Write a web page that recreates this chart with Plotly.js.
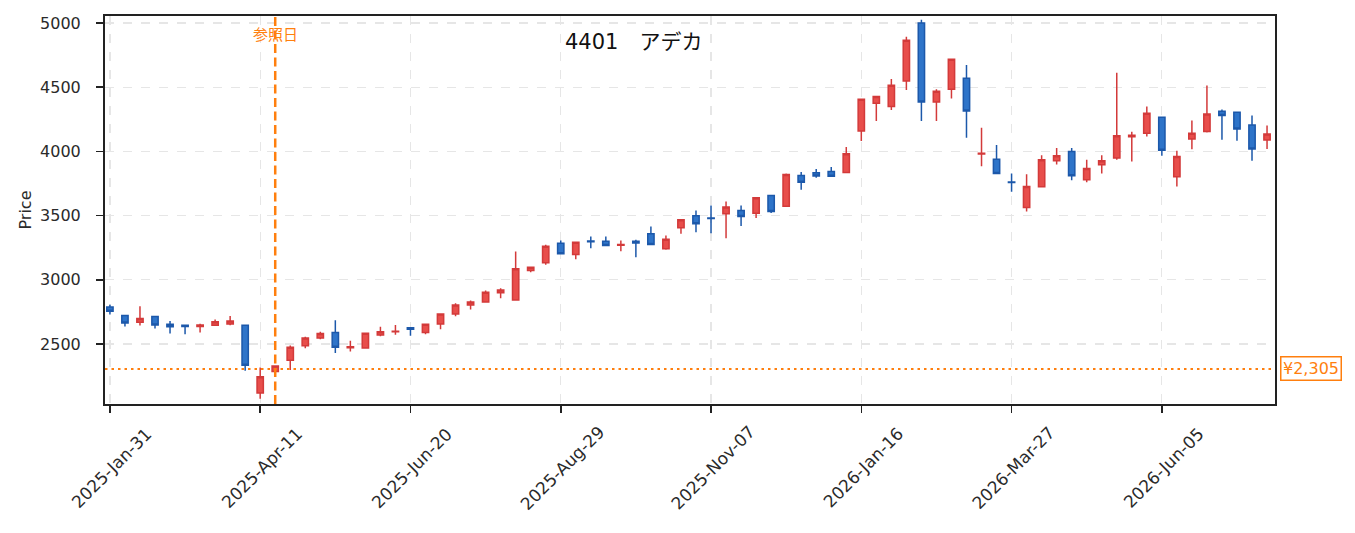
<!DOCTYPE html>
<html>
<head>
<meta charset="utf-8">
<script src="https://cdn.plot.ly/plotly-3.0.1.min.js"></script>
<style>html,body{margin:0;padding:0;background:#fff;}#chart{width:1355px;height:533px;}</style>
</head>
<body>
<div id="chart"></div>
<script>
const startDate = '2025-01-31';
const openVals = [2788,2722,2668,2714,2653,2645,2635,2645,2655,2645,2117,2285,2372,2485,2546,2589,2470,2469,2569,2594,2627,2589,2656,2734,2804,2827,2898,2843,3072,3132,3285,3197,3302,3300,3268,3300,3358,3241,3405,3498,3482,3514,3540,3518,3656,3573,3813,3833,3844,3836,4159,4375,4349,4549,5000,4385,4484,4570,3980,3938,3762,3563,3724,3927,4000,3779,3896,3948,4115,4141,4266,3802,4096,4156,4313,4305,4206,4089];
const highVals = [2806,2725,2793,2716,2678,2647,2658,2691,2717,2648,2316,2332,2487,2556,2594,2684,2525,2589,2633,2648,2630,2655,2736,2817,2838,2916,2934,3220,3100,3272,3306,3296,3337,3337,3306,3311,3415,3345,3470,3540,3579,3610,3579,3640,3660,3828,3839,3862,3878,4034,4412,4430,4565,4893,5026,4484,4722,4674,4185,4050,3828,3823,3971,4026,4026,3935,3971,4612,4154,4349,4268,4005,4240,4513,4326,4308,4279,4201];
const lowVals = [2730,2635,2643,2620,2582,2576,2589,2643,2645,2291,2072,2270,2296,2467,2536,2429,2441,2467,2559,2571,2564,2576,2614,2716,2768,2825,2856,2843,3059,3116,3200,3160,3246,3265,3223,3176,3272,3233,3358,3371,3363,3324,3418,3482,3521,3570,3701,3794,3803,3834,4081,4237,4323,4479,4237,4237,4412,4107,3885,3828,3685,3531,3722,3898,3776,3760,3828,3935,3922,4117,3966,3727,4016,4148,4091,4083,3927,4018];
const closeVals = [2755,2663,2699,2648,2633,2635,2648,2673,2679,2334,2245,2328,2474,2546,2582,2474,2478,2584,2594,2599,2614,2653,2734,2804,2827,2903,2921,3085,3098,3262,3202,3293,3297,3267,3275,3287,3275,3316,3467,3436,3478,3566,3493,3638,3531,3820,3760,3809,3807,3982,4406,4427,4516,4867,4385,4469,4719,4315,3985,3828,3758,3727,3935,3966,3810,3867,3927,4122,4125,4297,4010,3961,4141,4292,4279,4175,4018,4135];
const tickDates = ['2025-01-31','2025-04-11','2025-06-20','2025-08-29','2025-11-07','2026-01-16','2026-03-27','2026-06-05'];
const tickLabels = ['2025-Jan-31','2025-Apr-11','2025-Jun-20','2025-Aug-29','2025-Nov-07','2026-Jan-16','2026-Mar-27','2026-Jun-05'];
const yTicks = [2500, 3000, 3500, 4000, 4500, 5000];
const refDate = '2025-04-18';
const refPrice = 2305;
const refLabel = '参照日';
const priceLabel = '¥2,305';
const titleText = '4401\u3000アデカ';

function addDays(s, n) {
  const d = new Date(s + 'T00:00:00Z');
  d.setUTCDate(d.getUTCDate() + n);
  return d.toISOString().slice(0, 10);
}
const dates = openVals.map((_, i) => addDays(startDate, 7 * i));

const trace = {
  type: 'candlestick',
  x: dates, open: openVals, high: highVals, low: lowVals, close: closeVals,
  increasing: {line: {color: '#d33a3a', width: 1.5}, fillcolor: '#e84e4b'},
  decreasing: {line: {color: '#1c58aa', width: 1.5}, fillcolor: '#2e74c9'},
  whiskerwidth: 0,
  showlegend: false,
  hoverinfo: 'x+y'
};

const font = "'DejaVu Sans', 'Noto Sans CJK JP', sans-serif";
const jfont = "'Noto Sans CJK JP', 'DejaVu Sans', sans-serif";
const txtColor = '#2a2a2a';

const tickAnnotations = tickDates.map((d, i) => ({
  text: tickLabels[i], xref: 'x', yref: 'paper', x: d, y: -0.1637,
  xanchor: 'center', yanchor: 'middle', xshift: 1.5, textangle: -45,
  showarrow: false, font: {size: 17, family: font, color: txtColor}
}));

const layout = {
  width: 1355, height: 533,
  margin: {l: 105, r: 80, t: 16, b: 129},
  paper_bgcolor: '#ffffff', plot_bgcolor: '#ffffff',
  font: {family: font, color: txtColor, size: 16},
  boxgap: 0.4,
  xaxis: {
    type: 'date',
    range: ['2025-01-28 17:00', '2026-07-27 17:00'],
    rangeslider: {visible: false},
    tickmode: 'array', tickvals: tickDates, showticklabels: false,
    ticks: 'outside', ticklen: 7, tickcolor: '#222', tickwidth: 1.5,
    showgrid: true, gridcolor: '#e6e6e6', griddash: 'dash', gridwidth: 1.2,
    showline: true, linecolor: '#222', linewidth: 2, mirror: true,
    zeroline: false
  },
  yaxis: {
    range: [2032, 5055],
    tickmode: 'array', tickvals: yTicks,
    ticks: 'outside', ticklen: 7, tickcolor: '#222', tickwidth: 1.5,
    ticklabelstandoff: 12,
    showgrid: true, gridcolor: '#e6e6e6', griddash: 'dash', gridwidth: 1.2,
    showline: true, linecolor: '#222', linewidth: 2, mirror: true,
    zeroline: false,
    title: {text: 'Price', font: {size: 16, family: font, color: txtColor}, standoff: 4},
    tickfont: {size: 16, family: font, color: txtColor}
  },
  shapes: [
    {type: 'line', xref: 'x', yref: 'paper', x0: refDate, x1: refDate, y0: 0, y1: 1,
     line: {color: '#ff7f0e', width: 2.5, dash: '9px,4.5px'}},
    {type: 'line', xref: 'paper', yref: 'y', x0: 0, x1: 1, y0: refPrice, y1: refPrice,
     line: {color: '#ff7f0e', width: 2, dash: '2.5px,4px'}}
  ],
  annotations: tickAnnotations.concat([
    {text: titleText, xref: 'paper', yref: 'paper', x: 0.4517, y: 0.933,
     xanchor: 'center', yanchor: 'middle', showarrow: false,
     font: {size: 21, family: font, color: '#111'}},
    {text: refLabel, xref: 'x', yref: 'paper', x: refDate, y: 0.956,
     xanchor: 'center', yanchor: 'middle', showarrow: false,
     font: {size: 15, family: jfont, color: '#ff7f0e'}},
    {text: priceLabel, xref: 'paper', yref: 'y', x: 1.004, y: refPrice,
     xanchor: 'left', yanchor: 'middle', showarrow: false,
     bgcolor: '#ffffff', bordercolor: '#ff7f0e', borderwidth: 1.5, borderpad: 1.5,
     font: {size: 16, family: font, color: '#ff7f0e'}}
  ])
};

Plotly.newPlot('chart', [trace], layout, {displayModeBar: false, staticPlot: true});
</script>
</body>
</html>
